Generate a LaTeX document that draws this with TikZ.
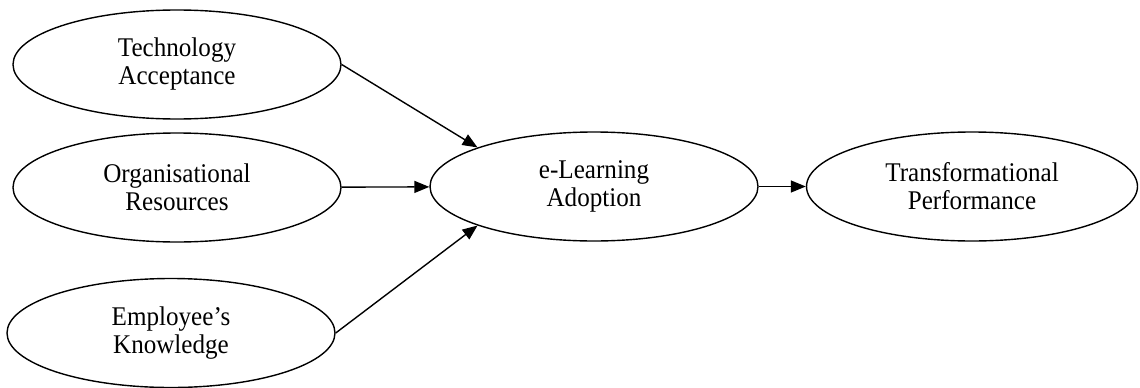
\documentclass[tikz,border=0pt]{standalone}
\usepackage{fontspec}
\setmainfont{Liberation Serif}[FakeStretch=0.93]
\usetikzlibrary{shapes.geometric,arrows.meta}
\begin{document}
\begin{tikzpicture}[x=1pt,y=-1pt,
  construct/.style={ellipse,draw,line width=1.4pt,minimum width=328pt,minimum height=109pt,inner sep=0pt,align=center,
    font=\fontsize{27}{28}\selectfont},
  link/.style={line width=1.4pt,-{Triangle[length=15pt,width=12pt]}}]
\useasboundingbox (0,0) rectangle (1140,388);
\node[construct] (ta) at (177,64.5) {Technology\\Acceptance};
\node[construct] (or) at (177,187.5) {Organisational\\Resources};
\node[construct] (ek) at (171,333) {Employee’s\\Knowledge};
\node[construct] (el) at (594,186.5) {e-Learning\\Adoption};
\node[construct,minimum width=331pt] (tp) at (972,186.5) {Transformational\\Performance};
\draw[link] (ta.east) -- (el.north west);
\draw[link] (or) -- (el);
\draw[link] (ek.east) -- (el.south west);
\draw[link] (el) -- (tp);
\end{tikzpicture}
\end{document}
